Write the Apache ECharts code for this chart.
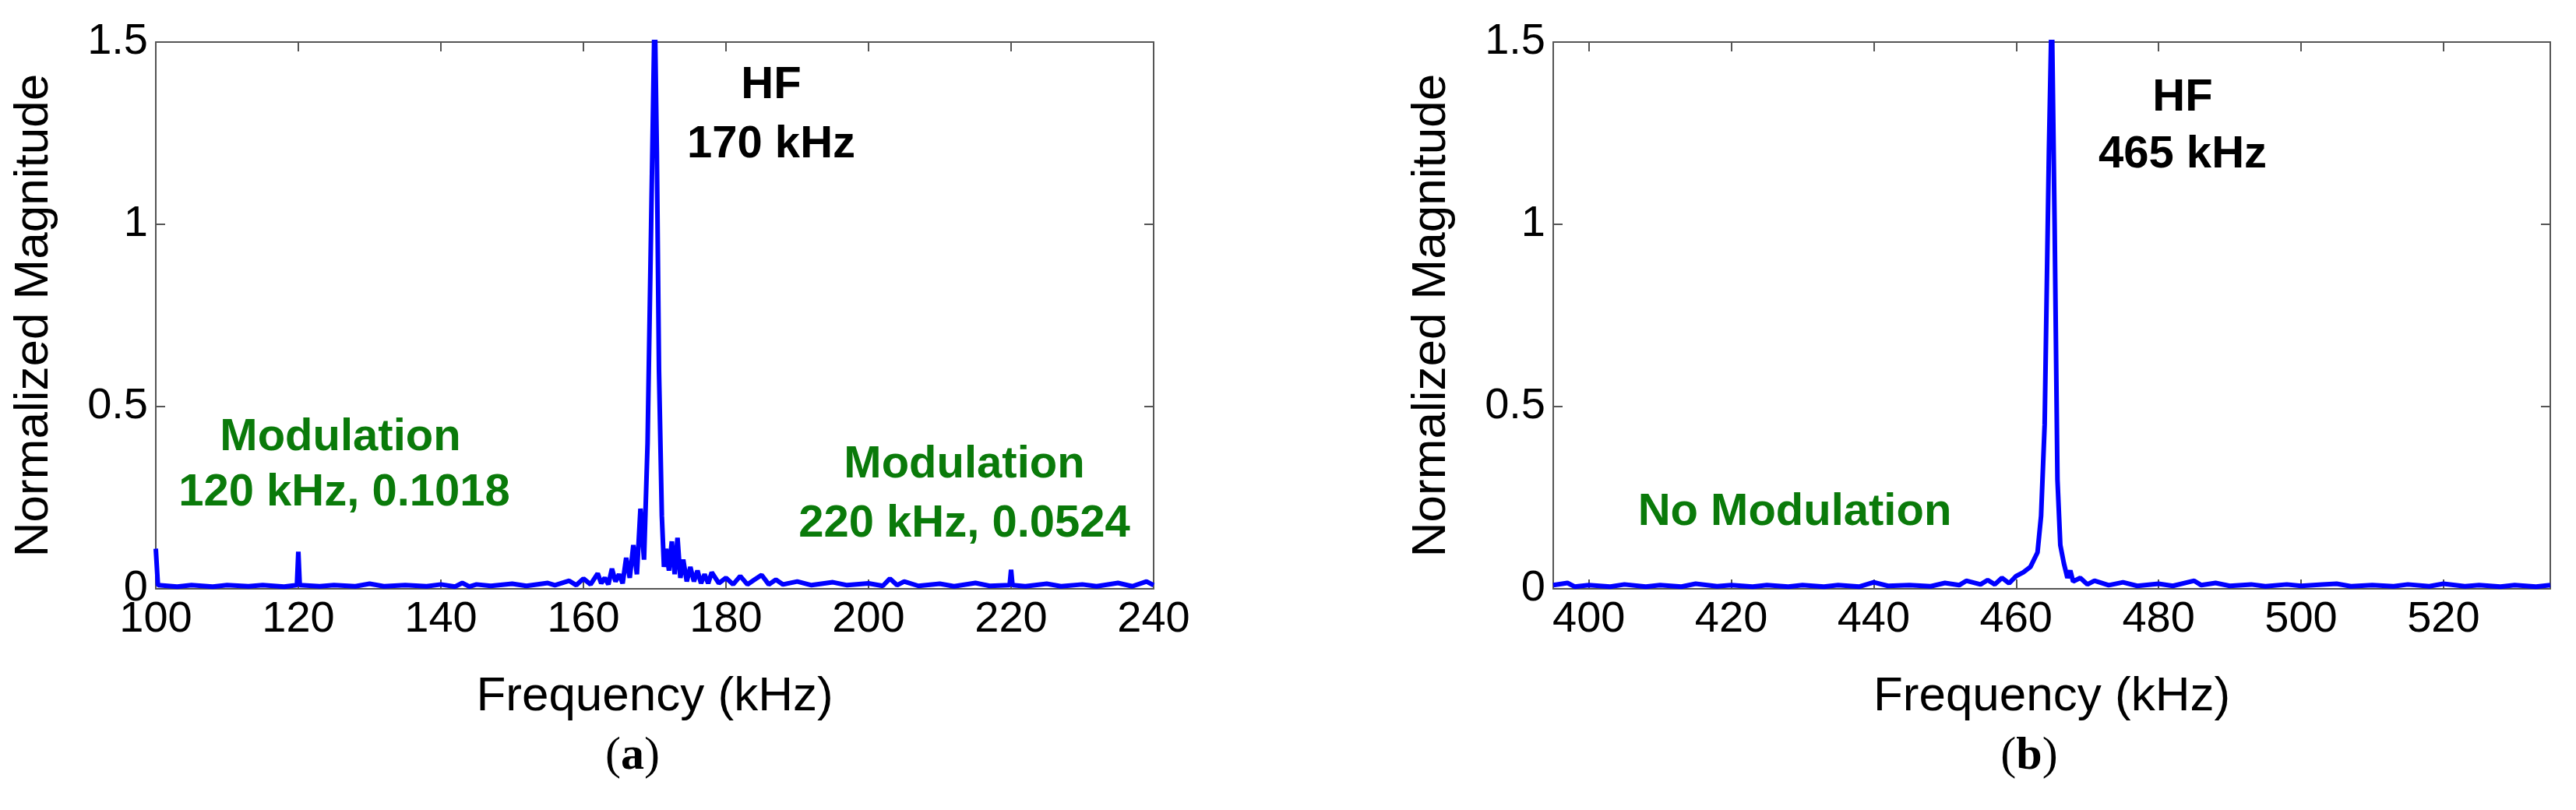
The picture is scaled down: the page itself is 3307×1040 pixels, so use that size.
<!DOCTYPE html>
<html><head><meta charset="utf-8">
<script src="https://cdn.jsdelivr.net/npm/echarts@6/dist/echarts.min.js"></script>
<style>html,body{margin:0;padding:0;background:#fff}#c{width:3307px;height:1040px}</style>
</head><body><div id="c"></div>
<script>
const ticksA = [100,120,140,160,180,200,220,240];
const ticksB = [400,420,440,460,480,500,520];
const yTicks = [0,0.5,1,1.5];
const spectrumA = [[100,0.11],[100.3,0.01],[103,0.006],[105,0.01],[108,0.006],[110,0.01],[113,0.007],[115,0.01],[118,0.006],[119.8,0.01],[120,0.1018],[120.2,0.01],[123,0.007],[125,0.01],[128,0.007],[130,0.014],[132,0.007],[135,0.01],[138,0.007],[140,0.012],[142,0.006],[143,0.016],[144,0.006],[145,0.012],[147,0.008],[150,0.014],[152,0.008],[155,0.016],[156,0.01],[158,0.022],[159,0.01],[160,0.028],[161,0.012],[162,0.042],[162.5,0.015],[163,0.03],[163.5,0.012],[164,0.055],[164.5,0.02],[165,0.04],[165.5,0.015],[166,0.085],[166.5,0.03],[167,0.12],[167.5,0.04],[168,0.22],[168.5,0.08],[169,0.4],[169.5,1.0],[170,1.6],[170.3,1.2],[170.6,0.6],[171,0.2],[171.3,0.06],[171.6,0.11],[172,0.05],[172.4,0.13],[172.8,0.04],[173.2,0.14],[173.6,0.03],[174,0.08],[174.5,0.02],[175,0.06],[175.5,0.02],[176,0.05],[176.5,0.015],[177,0.04],[177.5,0.015],[178,0.045],[179,0.015],[180,0.03],[181,0.012],[182,0.035],[183,0.012],[184,0.025],[185,0.038],[186,0.012],[187,0.025],[188,0.012],[190,0.02],[192,0.01],[195,0.018],[197,0.01],[200,0.015],[202,0.008],[203,0.028],[204,0.01],[205,0.02],[207,0.008],[210,0.014],[212,0.007],[215,0.016],[217,0.008],[219.8,0.01],[220,0.0524],[220.2,0.01],[222,0.007],[225,0.014],[227,0.007],[230,0.012],[232,0.007],[235,0.016],[237,0.007],[239,0.02],[240,0.01]];
const spectrumB = [[395,0.01],[397,0.016],[398,0.006],[400,0.01],[403,0.006],[405,0.012],[408,0.006],[410,0.01],[413,0.006],[415,0.014],[418,0.007],[420,0.01],[423,0.006],[425,0.01],[428,0.006],[430,0.01],[433,0.006],[435,0.01],[438,0.006],[440,0.018],[442,0.008],[445,0.01],[448,0.007],[450,0.016],[452,0.01],[453,0.022],[455,0.012],[456,0.024],[457,0.012],[458,0.03],[459,0.015],[460,0.035],[461,0.045],[462,0.06],[463,0.1],[463.5,0.2],[464,0.45],[464.6,1.2],[465,1.6],[465.4,1.0],[465.8,0.3],[466.2,0.12],[466.7,0.07],[467.2,0.03],[467.6,0.05],[468,0.02],[469,0.03],[470,0.012],[471,0.022],[473,0.01],[475,0.018],[477,0.008],[480,0.014],[482,0.008],[485,0.022],[486,0.01],[488,0.016],[490,0.008],[493,0.012],[495,0.007],[498,0.012],[500,0.008],[503,0.012],[505,0.014],[507,0.007],[510,0.01],[513,0.007],[515,0.012],[518,0.007],[520,0.014],[523,0.007],[525,0.01],[528,0.006],[530,0.01],[533,0.006],[535,0.01]];

const axisColor = '#555';
const tickFont = {fontFamily:'Liberation Sans, Arial', fontSize:56, color:'#000'};
const nameFont = {fontFamily:'Liberation Sans, Arial', fontSize:62, color:'#000'};
function xAx(idx, min, max, ticks, show) {
  return {type:'value', gridIndex:idx, min, max, position: show?'bottom':'top',
    name: show?'Frequency (kHz)':'', nameLocation:'middle', nameGap:108, nameTextStyle:nameFont,
    axisLine:{show:true,onZero:false,lineStyle:{color:axisColor,width:2}},
    axisTick:{show:true,inside:true,length:12,customValues:ticks,lineStyle:{color:axisColor,width:2}},
    axisLabel:{show:show,customValues:ticks,margin:12,...tickFont},
    splitLine:{show:false}};
}
function yAx(idx, show) {
  return {type:'value', gridIndex:idx, min:0, max:1.5, position: show?'left':'right',
    name: show?'Normalized Magnitude':'', nameLocation:'middle', nameGap:125, nameTextStyle:nameFont,
    axisLine:{show:true,lineStyle:{color:axisColor,width:2}},
    axisTick:{show:true,inside:true,length:12,customValues:yTicks,lineStyle:{color:axisColor,width:2}},
    axisLabel:{show:show,customValues:yTicks,margin:10,...tickFont},
    splitLine:{show:false}};
}
const green = '#0a7a0a';
const F = 'bold 58px Liberation Sans, Arial';
const t = (x,y,text,fill) => ({type:'text',x,y,style:{text,fill,font:F,align:'center',verticalAlign:'middle'}});
const chart = echarts.init(document.getElementById('c'));
chart.setOption({
  animation:false,
  grid:[{left:200,top:54,width:1281,height:702},{left:1994,top:54,width:1280,height:702}],
  xAxis:[xAx(0,100,240,ticksA,true),xAx(0,100,240,ticksA,false),xAx(1,395,535,ticksB,true),xAx(1,395,535,ticksB,false)],
  yAxis:[yAx(0,true),yAx(0,false),yAx(1,true),yAx(1,false)],
  series:[
    {type:'line',xAxisIndex:0,yAxisIndex:0,data:spectrumA,symbol:'none',clip:true,lineStyle:{color:'#0000ff',width:6}},
    {type:'line',xAxisIndex:2,yAxisIndex:2,data:spectrumB,symbol:'none',clip:true,lineStyle:{color:'#0000ff',width:6}}
  ],
  graphic:[
    {type:'group',children:[
      t(990,110,'HF','#000'), t(990,186,'170 kHz','#000'),
      t(437,562,'Modulation',green), t(442,633,'120 kHz, 0.1018',green),
      t(1238,597,'Modulation',green), t(1238,673,'220 kHz, 0.0524',green),
      t(2802,126,'HF','#000'), t(2802,199,'465 kHz','#000'),
      t(2304,658,'No Modulation',green),
      {type:'text',x:812,y:971,style:{rich:{p:{font:'60px Liberation Serif',fill:'#000'},b:{font:'bold 60px Liberation Serif',fill:'#000'}},text:'{p|(}{b|a}{p|)}',align:'center',verticalAlign:'middle'}},
      {type:'text',x:2605,y:971,style:{rich:{p:{font:'60px Liberation Serif',fill:'#000'},b:{font:'bold 60px Liberation Serif',fill:'#000'}},text:'{p|(}{b|b}{p|)}',align:'center',verticalAlign:'middle'}}
    ]}
  ]
});
</script></body></html>
